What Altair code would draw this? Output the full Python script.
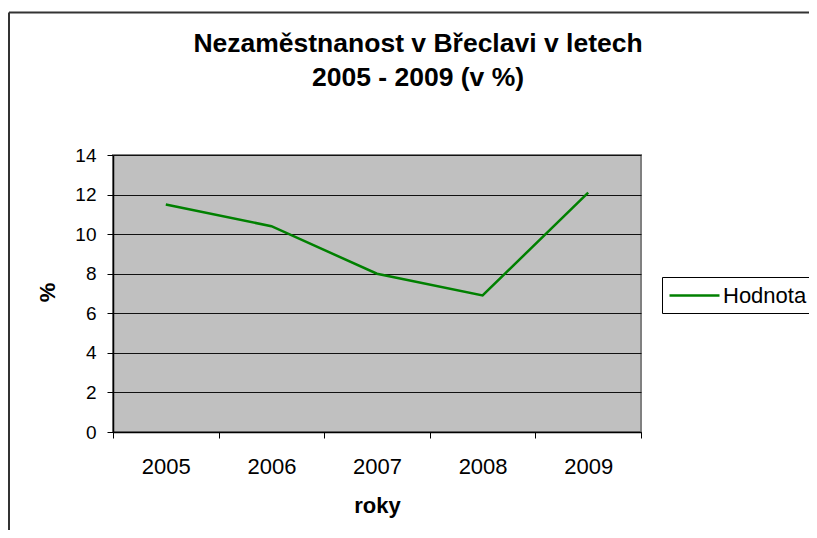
import altair as alt
import pandas as pd

years = ["2005", "2006", "2007", "2008", "2009"]
values = [11.5, 10.4, 8.0, 6.9, 12.1]
series = ["Hodnota"] * len(years)
y_ticks = [0, 2, 4, 6, 8, 10, 12, 14]

df = pd.DataFrame({"rok": years, "hodnota": values, "serie": series})

FONT = "Liberation Sans"

line = alt.Chart(df).mark_line(strokeWidth=2.5).encode(
    x=alt.X(
        "rok:O",
        bandPosition=0.5,
        scale=alt.Scale(type="band", paddingInner=0, paddingOuter=0),
        axis=alt.Axis(
            title="roky",
            labelAngle=0,
            tickBand="extent",
            tickSize=6,
            tickColor="#000",
            domainColor="#000",
            domainWidth=1.5,
            labelFontSize=22,
            labelBaseline="alphabetic",
            labelPadding=35,
            titleFontSize=22,
            titleFontWeight="bold",
            titleBaseline="alphabetic",
            titleY=80,
            grid=False,
        ),
    ),
    y=alt.Y(
        "hodnota:Q",
        scale=alt.Scale(domain=[0, 14], nice=False),
        axis=alt.Axis(
            title="%",
            values=y_ticks,
            tickSize=6,
            tickColor="#000",
            domainColor="#000",
            domainWidth=1.5,
            labelFontSize=19,
            labelPadding=11,
            titleFontSize=22,
            titleFontWeight="bold",
            titleAngle=-90,
            titleX=-66,
            titleY=137,
            titleAlign="center",
            titleBaseline="middle",
            grid=True,
            gridColor="#111",
            gridWidth=1,
        ),
    ),
    color=alt.Color(
        "serie:N",
        scale=alt.Scale(range=["#008000"]),
        legend=alt.Legend(
            title=None,
            orient="none",
            legendX=549,
            legendY=122,
            symbolType="M-1,0H3.545",
            symbolSize=484,
            symbolStrokeWidth=2.5,
            labelFontSize=22,
            labelOffset=30,
            labelExpr="datum.label + '\u00a0\u00a0\u00a0'",
            padding=6,
            strokeColor="#000",
            fillColor="#fff",
        ),
    ),
)

frame = pd.DataFrame({"k": [1]})
top_border = alt.Chart(frame).mark_rule(color="#333", strokeWidth=2).encode(
    x=alt.value(-104), x2=alt.value(710), y=alt.value(-142.5)
)
left_border = alt.Chart(frame).mark_rule(color="#333", strokeWidth=2).encode(
    x=alt.value(-104), y=alt.value(-142.5), y2=alt.value(400)
)

chart = (
    alt.layer(line, top_border, left_border)
    .properties(
        width=528,
        height=277,
        autosize=alt.AutoSizeParams(type="none"),
        padding={"left": 105, "top": 147, "right": 168, "bottom": 98},
        title=alt.TitleParams(
            text=["Nezaměstnanost v Břeclavi v letech", "2005 - 2009 (v %)"],
            fontSize=26.5,
            fontWeight="bold",
            font=FONT,
            lineHeight=34,
            anchor="middle",
            offset=-80,
            dx=41,
            color="#000",
        ),
    )
    .configure(font=FONT, background="#fff")
    .configure_view(fill="#C0C0C0", stroke="#808080", strokeWidth=2)
    .configure_axis(labelFont=FONT, titleFont=FONT, labelColor="#000", titleColor="#000")
    .configure_legend(labelFont=FONT, labelColor="#000")
)

chart.save("out.html", embed_options={"renderer": "svg", "actions": False})
